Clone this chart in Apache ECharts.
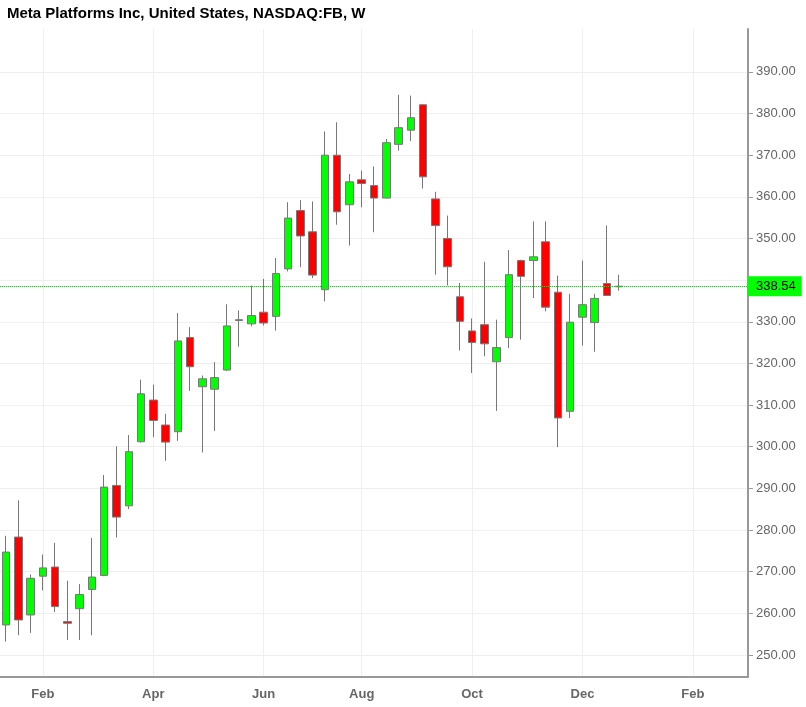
<!DOCTYPE html>
<html>
<head>
<meta charset="utf-8">
<script src="https://cdn.jsdelivr.net/npm/echarts@6/dist/echarts.min.js"></script>
<style>
  html, body { margin: 0; padding: 0; background: #fff; }
  #chart { width: 806px; height: 707px; }
</style>
</head>
<body>
<div id="chart"></div>
<script>
// weekly bars, dated by Monday; the tail is empty future weeks
const weeks = [
  "2021-01-11", "2021-01-18", "2021-01-25",
  "2021-02-01", "2021-02-08", "2021-02-15", "2021-02-22",
  "2021-03-01", "2021-03-08", "2021-03-15", "2021-03-22", "2021-03-29",
  "2021-04-05", "2021-04-12", "2021-04-19", "2021-04-26",
  "2021-05-03", "2021-05-10", "2021-05-17", "2021-05-24", "2021-05-31",
  "2021-06-07", "2021-06-14", "2021-06-21", "2021-06-28",
  "2021-07-05", "2021-07-12", "2021-07-19", "2021-07-26",
  "2021-08-02", "2021-08-09", "2021-08-16", "2021-08-23", "2021-08-30",
  "2021-09-06", "2021-09-13", "2021-09-20", "2021-09-27",
  "2021-10-04", "2021-10-11", "2021-10-18", "2021-10-25",
  "2021-11-01", "2021-11-08", "2021-11-15", "2021-11-22", "2021-11-29",
  "2021-12-06", "2021-12-13", "2021-12-20", "2021-12-27",
  "2022-01-03", "2022-01-10", "2022-01-17", "2022-01-24", "2022-01-31",
  "2022-02-07", "2022-02-14", "2022-02-21", "2022-02-28",
  "2022-03-07",
]

const openPrices = [
  257.2, 278.3, 259.6, 268.9, 271.1, 258.0, 261.1, 265.7, 269.1, 290.7,
  285.8, 301.2, 311.2, 305.2, 303.6, 326.2, 314.4, 313.8, 318.4, 330.3,
  329.5, 332.3, 331.3, 342.7, 356.7, 351.6, 337.7, 370.0, 358.1, 364.1,
  362.7, 359.7, 372.6, 376.0, 382.1, 359.5, 350.0, 336.0, 327.8, 329.3,
  320.4, 326.2, 344.7, 344.7, 349.2, 337.1, 308.5, 331.1, 329.8, 339.2,
  338.4,
]
const closePrices = [
  274.7, 258.4, 268.4, 270.9, 261.6, 257.6, 264.5, 268.7, 290.3, 283.1,
  298.8, 312.7, 306.3, 301.1, 325.4, 319.2, 316.3, 316.6, 329.0, 330.5,
  331.5, 329.7, 341.6, 354.9, 350.6, 341.2, 370.0, 356.4, 363.6, 363.2,
  359.7, 373.0, 376.6, 379.0, 364.8, 353.1, 343.2, 330.1, 325.0, 324.7,
  323.8, 341.3, 340.9, 345.6, 333.5, 306.9, 329.9, 334.1, 335.6, 336.3,
  338.54,
]
const lowPrices = [
  253.2, 254.7, 255.3, 265.5, 260.3, 253.6, 253.6, 254.7, 268.9, 278.2,
  285.0, 301.0, 302.3, 296.6, 301.4, 313.4, 298.6, 303.8, 318.2, 324.0,
  328.9, 329.1, 327.9, 342.1, 343.1, 340.5, 334.9, 353.3, 348.3, 357.5,
  351.5, 359.6, 371.1, 373.4, 362.0, 341.3, 338.7, 323.1, 317.7, 321.7,
  308.6, 323.7, 325.7, 335.7, 332.5, 299.9, 306.9, 324.3, 322.8, 336.2,
  337.5,
]
const highPrices = [
  278.6, 287.1, 269.3, 274.1, 276.9, 267.8, 267.0, 278.1, 293.2, 300.1,
  302.8, 316.1, 314.9, 307.9, 332.1, 328.7, 317.1, 320.3, 334.2, 332.7,
  338.7, 340.3, 345.3, 358.7, 359.2, 358.9, 375.7, 377.9, 365.5, 366.3,
  367.3, 373.9, 384.5, 384.3, 382.2, 361.2, 355.5, 339.3, 330.8, 344.4,
  330.5, 347.2, 344.9, 354.1, 354.1, 341.1, 336.7, 344.7, 336.7, 353.1,
  341.3,
]

const lastPrice = 338.54

const monthTickWeeks = ["2021-02-01", "2021-04-05", "2021-06-07", "2021-08-02", "2021-10-04", "2021-12-06", "2022-02-07"]
const monthTickLabels = ["Feb", "Apr", "Jun", "Aug", "Oct", "Dec", "Feb"]

const priceTicks = [250, 260, 270, 280, 290, 300, 310, 320, 330, 340, 350, 360, 370, 380, 390]
// 340 sits under the last-price tag
const priceLabels = priceTicks.filter((v) => v !== 340)

const candles = openPrices.map((o, i) => [o, closePrices[i], lowPrices[i], highPrices[i]])
const monthTickIdx = monthTickWeeks.map((d) => weeks.indexOf(d))

const font = "'Liberation Sans', Arial, sans-serif"
const isMonthTick = (idx, val) => monthTickWeeks.includes(val)

const chart = echarts.init(document.getElementById("chart"))

chart.setOption({
  animation: false,
  backgroundColor: "#fff",
  title: {
    text: "Meta Platforms Inc, United States, NASDAQ:FB, W",
    left: 2,
    top: 1,
    textStyle: { fontFamily: font, fontSize: 15, fontWeight: "bold", color: "#000" },
  },
  grid: { left: 0, right: 58, top: 29, bottom: 30 },
  xAxis: [
    {
      type: "category",
      data: weeks,
      boundaryGap: true,
      axisLine: { lineStyle: { color: "#999", width: 2 } },
      axisTick: { alignWithLabel: true, interval: isMonthTick, length: 5, lineStyle: { color: "#999" } },
      axisLabel: {
        interval: isMonthTick,
        formatter: (v) => monthTickLabels[monthTickWeeks.indexOf(v)],
        fontFamily: font,
        fontSize: 13,
        fontWeight: "bold",
        color: "#666",
        margin: 11,
      },
      splitLine: { show: false },
    },
    {
      // hidden helper axis: vertical grid lines through the month ticks
      type: "value",
      min: -0.5,
      max: weeks.length - 0.5,
      position: "top",
      axisLine: { show: false, onZero: false },
      axisTick: { show: false, customValues: monthTickIdx },
      axisLabel: { show: false, customValues: monthTickIdx },
      splitLine: { show: true, lineStyle: { color: "#efefef", width: 1 } },
    },
  ],
  yAxis: {
    type: "value",
    position: "right",
    min: 244.7,
    max: 400.3,
    axisLine: { show: true, onZero: false, lineStyle: { color: "#999", width: 2 } },
    axisTick: { show: true, length: 5, customValues: priceTicks, lineStyle: { color: "#999" } },
    axisLabel: {
      customValues: priceLabels,
      formatter: (v) => v.toFixed(2),
      fontFamily: font,
      fontSize: 13,
      color: "#666",
      margin: 8,
    },
    splitLine: { show: true, lineStyle: { color: "#efefef", width: 1 } },
  },
  series: [
    {
      type: "candlestick",
      xAxisIndex: 0,
      data: candles,
      barWidth: 8,
      itemStyle: {
        color: "#00ff00",
        color0: "#ff0000",
        borderColor: "#777",
        borderColor0: "#777",
        borderWidth: 1,
      },
      markLine: {
        silent: true,
        symbol: ["none", "none"],
        lineStyle: { color: "#22cc22", type: "dotted", width: 1 },
        label: {
          position: "end",
          distance: 0,
          formatter: () => lastPrice.toFixed(2),
          backgroundColor: "#00ff00",
          color: "#000",
          fontFamily: font,
          fontSize: 13,
          padding: [4, 6, 3, 8],
        },
        data: [{ yAxis: lastPrice }],
      },
    },
  ],
})
</script>
</body>
</html>
